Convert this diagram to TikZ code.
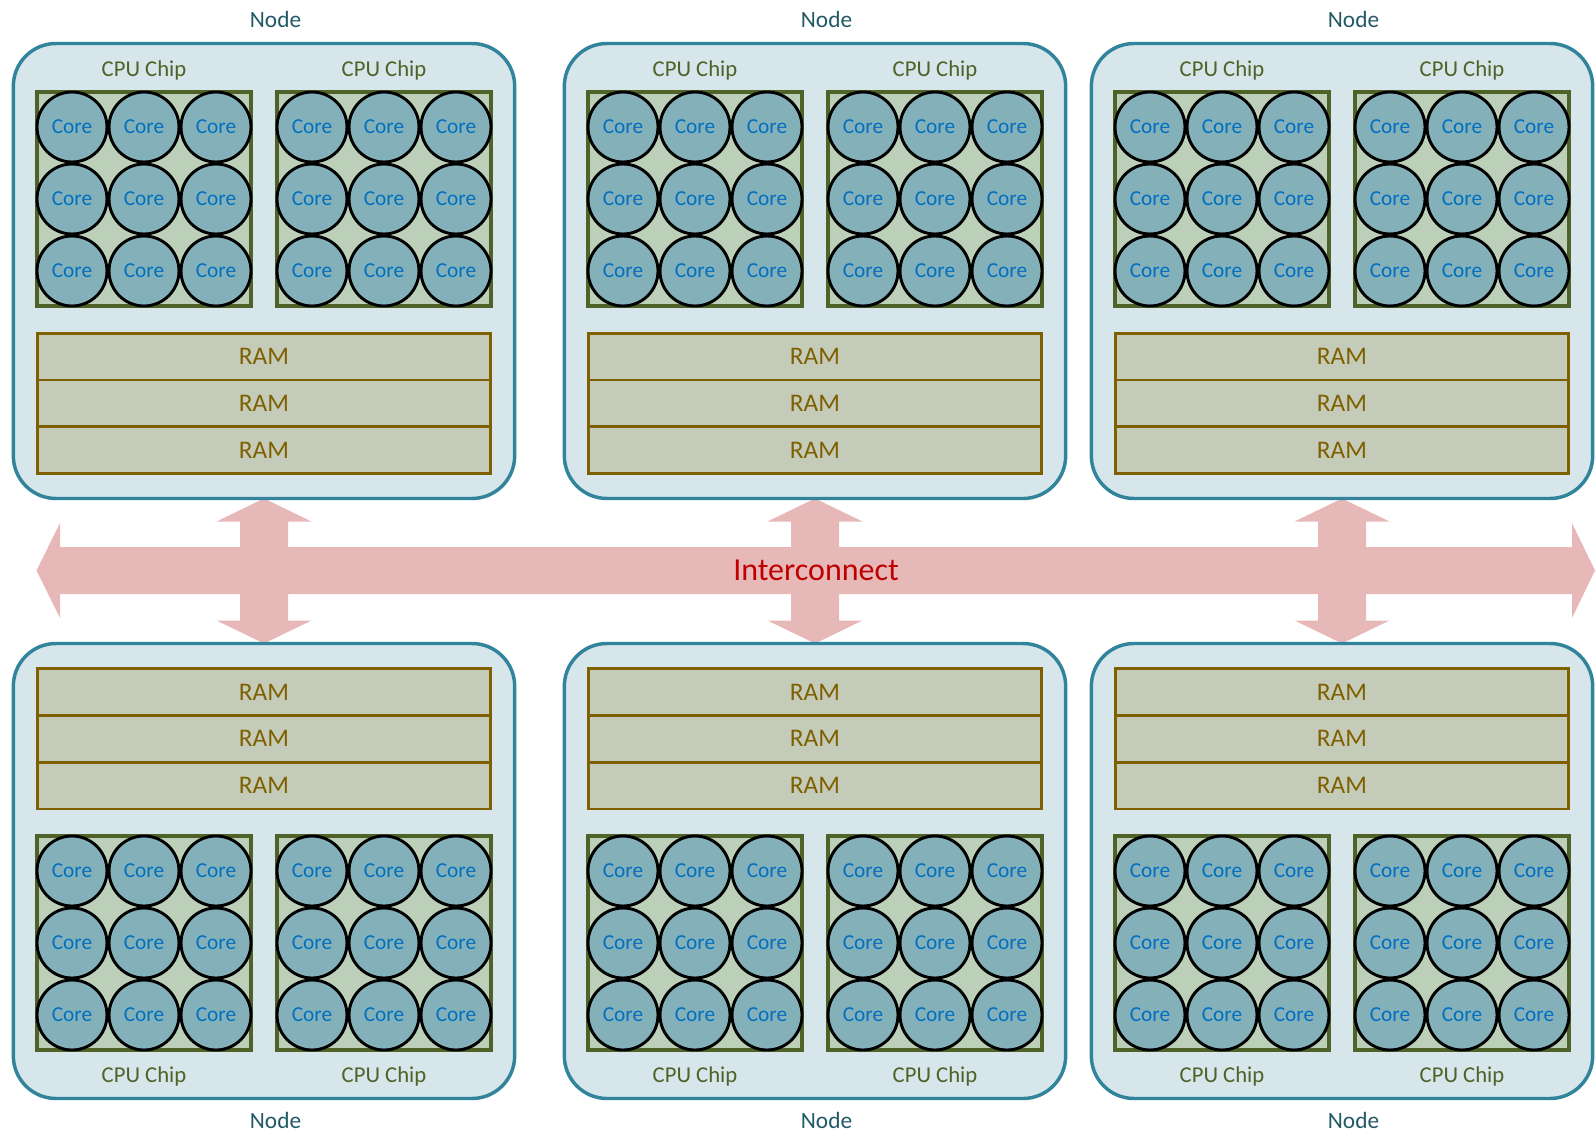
\documentclass[tikz,border=0pt]{standalone}
\usepackage{fontspec}
\setmainfont{Carlito}
\usetikzlibrary{calc,backgrounds}
\definecolor{nodefill}{HTML}{D6E6EA}
\definecolor{nodeline}{HTML}{31849B}
\definecolor{nodetext}{HTML}{215967}
\definecolor{chipfill}{HTML}{BCD0B9}
\definecolor{chipline}{HTML}{4F6228}
\definecolor{corefill}{HTML}{84B1B9}
\definecolor{coretext}{HTML}{0070C0}
\definecolor{ramfill}{HTML}{C4CCB9}
\definecolor{ramline}{HTML}{7F6000}
\definecolor{busfill}{HTML}{E6B9B8}
\definecolor{bustext}{HTML}{C00000}
\tikzset{
 nodebox/.style={draw=nodeline, fill=nodefill, line width=2.6pt, rounded corners=32pt,
   minimum width=376pt, minimum height=341.25pt, inner sep=0pt, outer sep=0pt},
 chipbox/.style={draw=chipline, fill=chipfill, line width=3.3pt,
   minimum width=160.5pt, minimum height=160.5pt, inner sep=0pt, outer sep=0pt},
 corebox/.style={circle, draw=black, fill=corefill, line width=2.2pt, minimum size=52.5pt,
   inner sep=0pt, text=coretext, font=\fontsize{16}{19}\selectfont},
 rambox/.style={draw=ramline, fill=ramfill, line width=2.1pt, minimum width=339.5pt,
   minimum height=35.1pt, inner sep=0pt, outer sep=0pt, text=ramline, font=\fontsize{19}{22}\selectfont},
 chiplabel/.style={text=chipline, font=\fontsize{17}{20}\selectfont, inner sep=0pt},
 nodelabel/.style={text=nodetext, font=\fontsize{17.5}{20}\selectfont, inner sep=0pt},
 bus/.style={fill=busfill, draw=none},
 buslabel/.style={text=bustext, font=\fontsize{24}{28}\selectfont, inner sep=0pt},
}
\newcommand\compnode[4]{% name, cx, cy, s (1 = chips above, -1 = chips below)
 \node[nodebox] (#1) at (#2,#3) {};
 \node[nodelabel] (#1-lbl) at ({#2+11.5},{#3-(#4)*250.5-1}) {Node};
 \foreach \chipid/\chipdx in {a/-120,b/120} {
   \node[chipbox] (#1-\chipid) at ({#2+\chipdx},{#3-(#4)*72}) {};
   \node[chiplabel] (#1-\chipid-lbl) at ({#2+\chipdx},{#3-(#4)*203+2}) {CPU Chip};
   \foreach \rowi/\rowdy in {1/-72,2/0,3/72} {
     \foreach \coli/\coldx in {1/-72,2/0,3/72} {
       \node[corebox] (#1-\chipid-\rowi\coli) at ({#2+\chipdx+\coldx},{#3-(#4)*72+\rowdy}) {Core};
     }
   }
 }
 \foreach \ramj/\ramdy in {1/85.5,2/132.3,3/179.1} {
   \node[rambox] (#1-ram\ramj) at (#2,{#3+(#4)*\ramdy}) {RAM};
 }
}
\begin{document}
\begin{tikzpicture}[x=0.75pt,y=-0.75pt]
\useasboundingbox (0,0) rectangle (1595,1134);
\compnode{n1}{264}{271}{1}
\compnode{n2}{815}{271}{1}
\compnode{n3}{1342}{271}{1}
\compnode{n4}{264}{871}{-1}
\compnode{n5}{815}{871}{-1}
\compnode{n6}{1342}{871}{-1}
\begin{scope}[on background layer]
 \fill[bus] (36.5,570.5) -- (60,523) -- (60,547) -- (1572,547) -- (1572,523) -- (1595,570.5)
   -- (1572,618) -- (1572,594) -- (60,594) -- (60,618) -- cycle;
 \foreach \up/\down in {n1/n4,n2/n5,n3/n6} {
   \path (\up.south) coordinate (\up-t) (\down.north) coordinate (\down-b);
   \fill[bus] (\up-t) -- ($(\up-t)+(47.5,23)$) -- ($(\up-t)+(24,23)$) -- ($(\down-b)+(24,-23)$)
     -- ($(\down-b)+(47.5,-23)$) -- (\down-b) -- ($(\down-b)+(-47.5,-23)$) -- ($(\down-b)+(-24,-23)$)
     -- ($(\up-t)+(-24,23)$) -- ($(\up-t)+(-47.5,23)$) -- cycle;
 }
\end{scope}
\node[buslabel] (ic) at (816,570) {Interconnect};
\end{tikzpicture}
\end{document}
